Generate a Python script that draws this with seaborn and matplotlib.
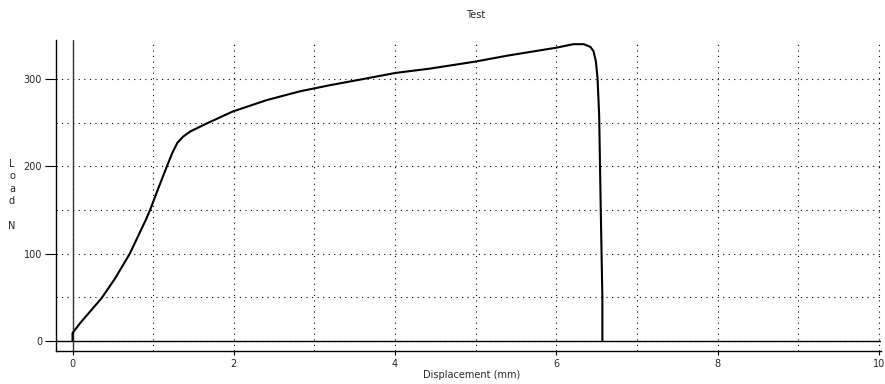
import matplotlib
matplotlib.use("Agg")
import matplotlib.pyplot as plt
import seaborn as sns
import pandas as pd
from matplotlib.ticker import MultipleLocator

# Data
displacement = [0.0, 0.0, 0.09, 0.36, 0.53, 0.71, 0.91, 0.97, 1.06, 1.17, 1.24, 1.30,
                1.37, 1.46, 1.66, 1.99, 2.41, 2.82, 3.19, 3.6, 4.0, 4.43, 4.99,
                5.4, 5.8, 6.0, 6.21, 6.34, 6.42, 6.46, 6.49, 6.51, 6.53, 6.55, 6.57, 6.57]
load = [0, 9, 20, 49, 72, 100, 139, 152, 174, 200, 216, 227,
        234, 240, 249, 263, 276, 286, 293, 300, 307, 312, 320,
        327, 333, 336, 340, 340, 337, 332, 320, 301, 259, 150, 50, 0]

x_ticks = [0, 2, 4, 6, 8, 10]
y_ticks = [0, 100, 200, 300]
title = "Test"
x_label = "Displacement (mm)"
y_label = "L\no\na\nd\n\nN"

sns.set_style("white")
plt.rcParams['font.family'] = ['DejaVu Sans']

df = pd.DataFrame({"Displacement": displacement, "Load": load})

fig = plt.figure(figsize=(8.85, 3.84), dpi=100)
ax = fig.add_axes([56 / 885, 1 - 351 / 384, (881 - 56) / 885, (351 - 40) / 384])

ax.set_xlim(-0.205, 10.025)
ax.set_ylim(-11.5, 344.8)

# grid
ax.xaxis.set_major_locator(MultipleLocator(2))
ax.xaxis.set_minor_locator(MultipleLocator(1))
ax.yaxis.set_major_locator(MultipleLocator(100))
ax.yaxis.set_minor_locator(MultipleLocator(50))
ax.grid(True, which="both", color="black", linestyle=(0, (1, 4)), linewidth=0.8)
ax.set_axisbelow(True)

ax.axhline(0, color="black", linewidth=1.0, zorder=2)
ax.axvline(0, color="#333333", linewidth=1.0, zorder=2)

sns.lineplot(data=df, x="Displacement", y="Load", sort=False, estimator=None,
             color="black", linewidth=1.5, ax=ax, zorder=3)

ax.set_xticks(x_ticks)
ax.set_yticks(y_ticks)
ax.set_xticklabels([str(t) for t in x_ticks], fontsize=7)
ax.set_yticklabels([str(t) for t in y_ticks], fontsize=7)
ax.tick_params(axis="y", which="major", length=8, width=0.8, color="black", pad=2, direction="out", left=True)
ax.tick_params(axis="x", which="major", length=3, width=0.8, color="black", pad=3, direction="out", bottom=True)
ax.tick_params(which="minor", length=0)

for s in ["top", "right"]:
    ax.spines[s].set_visible(False)
for s in ["left", "bottom"]:
    ax.spines[s].set_color("black")
    ax.spines[s].set_linewidth(1.0)

ax.set_xlabel("")
ax.set_ylabel("")
fig.text(472 / 885, 1 - 375 / 384, x_label, ha="center", va="center", fontsize=7)
fig.text(476 / 885, 1 - 15 / 384, title, ha="center", va="center", fontsize=7)
fig.text(12 / 885, 1 - 195 / 384, y_label, ha="center", va="center", fontsize=7, linespacing=1.3)

fig.savefig("out.png", dpi=100, facecolor="white")
